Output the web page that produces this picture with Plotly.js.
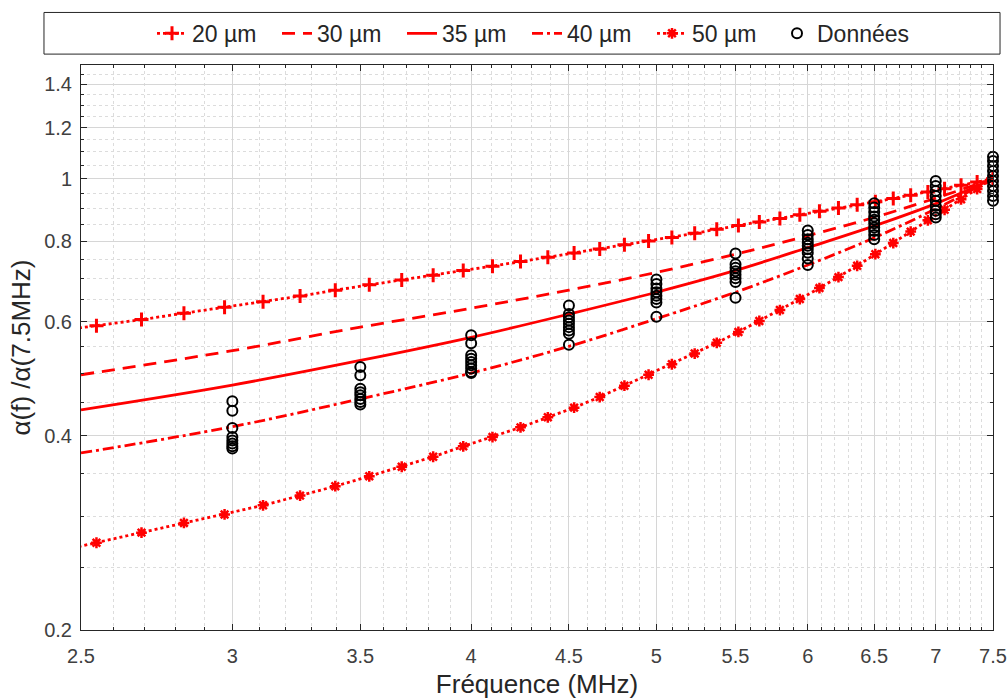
<!DOCTYPE html>
<html>
<head>
<meta charset="utf-8">
<script src="https://cdn.plot.ly/plotly-3.0.1.min.js"></script>
<style>html,body{margin:0;padding:0;background:#fff;}#chart{width:1008px;height:700px;}</style>
</head>
<body>
<div id="chart"></div>
<script>
// ---- data ----
const freqMarked = [2.406, 2.547, 2.689, 2.830, 2.972, 3.113, 3.255, 3.396, 3.538, 3.679, 3.821, 3.962, 4.104, 4.245, 4.387, 4.528, 4.670, 4.811, 4.953, 5.094, 5.236, 5.377, 5.519, 5.660, 5.802, 5.943, 6.085, 6.226, 6.368, 6.509, 6.651, 6.792, 6.934, 7.075, 7.217, 7.358, 7.500];
const ratio20 = [0.579, 0.592, 0.605, 0.619, 0.632, 0.645, 0.658, 0.672, 0.685, 0.697, 0.709, 0.721, 0.732, 0.744, 0.756, 0.767, 0.778, 0.790, 0.801, 0.811, 0.823, 0.835, 0.846, 0.857, 0.868, 0.879, 0.890, 0.901, 0.911, 0.921, 0.932, 0.943, 0.954, 0.965, 0.977, 0.988, 1.000];
const ratio50 = [0.263, 0.273, 0.283, 0.293, 0.302, 0.312, 0.323, 0.334, 0.346, 0.358, 0.371, 0.385, 0.398, 0.412, 0.427, 0.442, 0.459, 0.478, 0.497, 0.516, 0.536, 0.557, 0.579, 0.602, 0.626, 0.651, 0.677, 0.704, 0.733, 0.764, 0.795, 0.828, 0.862, 0.895, 0.929, 0.964, 1.000];

const freqLine = [2.5, 3, 3.5, 4, 4.5, 5, 5.5, 6, 6.5, 7, 7.5];
const ratio30 = [0.497, 0.5415, 0.589, 0.630, 0.672, 0.716, 0.764, 0.816, 0.871, 0.933, 1.0];
const ratio35 = [0.4385, 0.479, 0.523, 0.568, 0.617, 0.667, 0.721, 0.782, 0.845, 0.915, 1.0];
const ratio40 = [0.376, 0.413, 0.456, 0.500, 0.550, 0.607, 0.667, 0.735, 0.810, 0.898, 1.0];

const dataFreqs = [3, 3.5, 4, 4.5, 5, 5.5, 6, 6.5, 7, 7.5];
const dataRatios = [
  [0.452, 0.437, 0.411, 0.398, 0.393, 0.389, 0.385, 0.382],
  [0.511, 0.496, 0.473, 0.467, 0.462, 0.456, 0.451, 0.447],
  [0.572, 0.556, 0.533, 0.526, 0.520, 0.514, 0.508, 0.502, 0.500],
  [0.636, 0.617, 0.610, 0.603, 0.596, 0.589, 0.582, 0.575, 0.553],
  [0.698, 0.687, 0.676, 0.667, 0.659, 0.651, 0.643, 0.611],
  [0.766, 0.737, 0.728, 0.719, 0.710, 0.701, 0.692, 0.654],
  [0.831, 0.818, 0.806, 0.796, 0.787, 0.778, 0.768, 0.752, 0.735],
  [0.916, 0.902, 0.888, 0.874, 0.864, 0.853, 0.840, 0.830, 0.818, 0.806],
  [0.992, 0.974, 0.957, 0.940, 0.924, 0.908, 0.892, 0.881, 0.871],
  [1.081, 1.065, 1.046, 1.028, 1.010, 0.992, 0.974, 0.957, 0.940, 0.924]
];

const seriesNames = ['20 µm', '30 µm', '35 µm', '40 µm', '50 µm', 'Données'];
const xTickVals = [2.5, 3, 3.5, 4, 4.5, 5, 5.5, 6, 6.5, 7, 7.5];
const xTickText = ['2.5', '3', '3.5', '4', '4.5', '5', '5.5', '6', '6.5', '7', '7.5'];
const yTickVals = [0.2, 0.4, 0.6, 0.8, 1, 1.2, 1.4];
const yTickText = ['0.2', '0.4', '0.6', '0.8', '1', '1.2', '1.4'];

// ---- build ----
const RED = '#ff0000';
const FONT = 'Liberation Sans, Arial, Helvetica, sans-serif';

const dx = [], dy = [];
dataFreqs.forEach((f, i) => dataRatios[i].forEach(v => { dx.push(f); dy.push(v); }));

const xMinor = [];
for (let i = 25; i <= 75; i++) { if (i % 5 !== 0) xMinor.push(i / 10); }
const yMinor = [];
for (let i = 4; i <= 30; i++) { if (i % 4 !== 0) yMinor.push(i * 0.05); }

const LW = 2.8;
const traces = [
  {x: freqMarked, y: ratio20, name: seriesNames[0], mode: 'lines+markers',
   line: {color: RED, width: LW, dash: '3px,3px'},
   marker: {symbol: 'cross-thin', size: 10, color: RED, line: {color: RED, width: 3}}},
  {x: freqLine, y: ratio30, name: seriesNames[1], mode: 'lines',
   line: {color: RED, width: LW, dash: '13px,8px', shape: 'spline'}},
  {x: freqLine, y: ratio35, name: seriesNames[2], mode: 'lines',
   line: {color: RED, width: LW, shape: 'spline'}},
  {x: freqLine, y: ratio40, name: seriesNames[3], mode: 'lines',
   line: {color: RED, width: LW, dash: '11px,4px,3px,4px', shape: 'spline'}},
  {x: freqMarked, y: ratio50, name: seriesNames[4], mode: 'lines+markers',
   line: {color: RED, width: LW, dash: '3px,3px'},
   marker: {symbol: 'asterisk', size: 9, color: RED, line: {color: RED, width: 2.5}}},
  {x: dx, y: dy, name: seriesNames[5], mode: 'markers', cliponaxis: false, legendwidth: 100,
   marker: {symbol: 'circle-open', size: 10, color: '#000', line: {color: '#000', width: 2}}}
];

const axisCommon = {
  type: 'log', showline: true, linecolor: '#262626', linewidth: 1, mirror: 'ticks',
  ticks: 'inside', ticklen: 6, tickcolor: '#262626', tickwidth: 1,
  showgrid: true, gridcolor: '#d6d6d6', gridwidth: 1, zeroline: false,
  tickfont: {family: FONT, size: 20, color: '#404040'}
};

const layout = {
  width: 1008, height: 700,
  margin: {l: 81, r: 15, t: 61, b: 70},
  paper_bgcolor: '#fff', plot_bgcolor: '#fff',
  font: {family: FONT, color: '#262626'},
  showlegend: true,
  legend: {orientation: 'h', x: 0.5, xanchor: 'center', y: 1.056, yanchor: 'middle',
           font: {family: FONT, size: 23, color: '#262626'}, bgcolor: 'rgba(0,0,0,0)', borderwidth: 0,
           entrywidth: 80, entrywidthmode: 'pixels'},
  shapes: [{type: 'rect', xref: 'paper', yref: 'paper', x0: -0.0406, x1: 1.0077, y0: 1.0193, y1: 1.093,
            line: {color: '#262626', width: 1}, fillcolor: 'rgba(0,0,0,0)'}],
  xaxis: Object.assign({}, axisCommon, {
    range: [Math.log10(2.5), Math.log10(7.5)],
    tickmode: 'array', tickvals: xTickVals, ticktext: xTickText, ticklabelstandoff: 8,
    minor: {tickmode: 'array', tickvals: xMinor, ticks: 'inside', ticklen: 3, tickcolor: '#262626',
            showgrid: true, gridcolor: '#dcdcdc', griddash: 'dot', gridwidth: 1},
    title: {text: 'Fréquence (MHz)', font: {family: FONT, size: 26, color: '#262626'}, standoff: 8}
  }),
  yaxis: Object.assign({}, axisCommon, {
    range: [Math.log10(0.2), Math.log10(1.5)],
    tickmode: 'array', tickvals: yTickVals, ticktext: yTickText, ticklabelstandoff: 4,
    minor: {tickmode: 'array', tickvals: yMinor, ticks: 'inside', ticklen: 3, tickcolor: '#262626',
            showgrid: true, gridcolor: '#dcdcdc', griddash: 'dot', gridwidth: 1},
    title: {text: 'α(f) /α(7.5MHz)', font: {family: FONT, size: 26, color: '#262626'}, standoff: 6}
  })
};

Plotly.newPlot('chart', traces, layout, {displayModeBar: false, staticPlot: true});
</script>
</body>
</html>
